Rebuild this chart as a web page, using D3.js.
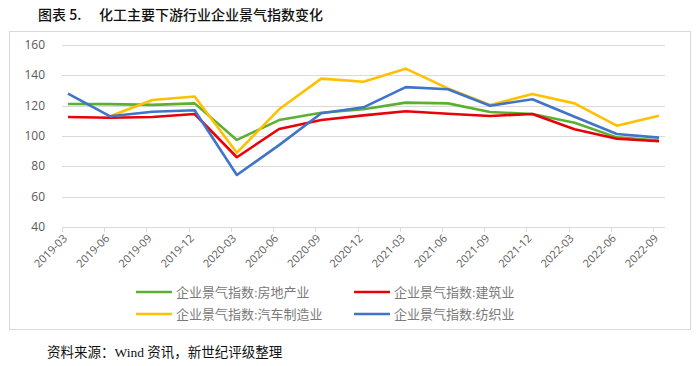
<!DOCTYPE html>
<meta charset="utf-8">
<style>
body { margin: 0; background: #fff; }
text { font-family: "Open Sans", "Noto Sans", sans-serif; }
.axis text { fill: #595959; font-size: 11px; }
.legend text { fill: #7a7a7a; font-size: 13px; font-family: "Liberation Serif", "Noto Sans CJK SC", serif; }
</style>
<svg width="700" height="366"></svg>
<script src="https://d3js.org/d3.v7.min.js"></script>
<script>

var dates = ["2019-03","2019-06","2019-09","2019-12","2020-03","2020-06","2020-09","2020-12",
             "2021-03","2021-06","2021-09","2021-12","2022-03","2022-06","2022-09"];
var yTicks = [40, 60, 80, 100, 120, 140, 160];

// 企业景气指数
var realEstate = [121.1, 121, 120.5, 121.5, 97.4, 110.5, 115.3, 117.6, 122, 121.5, 115.8, 114.5, 108.8, 99.1, 97];
var construction = [112.5, 112, 112.5, 114.5, 86, 104.6, 110.5, 113.6, 116.3, 114.7, 113.2, 114.5, 104.4, 98.2, 96.5];
var autoMaking = [null, 113, 123.7, 126, 89, 117.6, 137.8, 135.8, 144.4, 131.4, 120.4, 127.7, 121.5, 106.8, 113.4];
var textile = [128, 113, 116, 117, 74.3, 94, 115, 118.9, 132.2, 130.8, 120, 124.2, 112.7, 101.3, 98.9];

var series = [
  {name: "企业景气指数:房地产业", values: realEstate, color: "#5bb031"},
  {name: "企业景气指数:建筑业", values: construction, color: "#e8000b"},
  {name: "企业景气指数:汽车制造业", values: autoMaking, color: "#ffc000"},
  {name: "企业景气指数:纺织业", values: textile, color: "#3f74c8"}
];

var svg = d3.select("svg");

// outer frame
svg.append("rect")
  .attr("x", 9.5).attr("y", 31.5)
  .attr("width", 681).attr("height", 298)
  .attr("fill", "none").attr("stroke", "#d9d9d9");

svg.append("text").attr("x", 38).attr("y", 20)
  .style("font-family", "'Noto Sans CJK SC'").style("font-size", "14px").style("font-weight", "500")
  .attr("fill", "#111").text("图表 5.");
svg.append("text").attr("x", 99).attr("y", 20)
  .style("font-family", "'Noto Sans CJK SC'").style("font-size", "14px").style("font-weight", "500")
  .attr("fill", "#111").text("化工主要下游行业企业景气指数变化");

svg.append("text").attr("x", 47).attr("y", 357)
  .style("font-family", "'Liberation Serif', 'Noto Sans CJK SC', serif").style("font-size", "13.5px")
  .attr("fill", "#111").text("资料来源：Wind 资讯，新世纪评级整理");

var plotL = 62, plotR = 665;

var x = d3.scalePoint().domain(dates).range([68, 659]);
var y = d3.scaleLinear().domain([40, 160]).range([227, 45]);

// gridlines
svg.append("g").selectAll("line").data(yTicks).join("line")
  .attr("x1", plotL).attr("x2", plotR)
  .attr("y1", function(d) { return Math.round(y(d)) + 0.5; })
  .attr("y2", function(d) { return Math.round(y(d)) + 0.5; })
  .attr("stroke", "#d9d9d9").attr("stroke-width", 1);

var yAxis = svg.append("g").attr("class", "axis");
yAxis.selectAll("text").data(yTicks).join("text")
  .attr("x", 45).attr("y", function(d) { return y(d) + 4; })
  .attr("text-anchor", "end")
  .style("font-size", "12px")
  .text(function(d) { return d; });

// x axis tick marks and rotated labels
var xAxis = svg.append("g").attr("class", "axis");
xAxis.selectAll("line").data(dates).join("line")
  .attr("x1", function(d) { return Math.round(x(d)) - 6 + 0.5; })
  .attr("x2", function(d) { return Math.round(x(d)) - 6 + 0.5; })
  .attr("y1", y(40)).attr("y2", y(40) + 5)
  .attr("stroke", "#d9d9d9");
xAxis.selectAll("text").data(dates).join("text")
  .attr("transform", function(d) { return "translate(" + (x(d)) + "," + (y(40) + 12) + ") rotate(-45)"; })
  .attr("text-anchor", "end")
  .text(function(d) { return d; });

var line = d3.line()
  .defined(function(d) { return d != null; })
  .x(function(d, i) { return x(dates[i]); })
  .y(function(d) { return y(d); });

svg.append("g").selectAll("path").data(series).join("path")
  .attr("d", function(s) { return line(s.values); })
  .attr("fill", "none")
  .attr("stroke", function(s) { return s.color; })
  .attr("stroke-width", 2.6)
  .attr("stroke-linejoin", "round");

// legend
var legendPos = [[136, 292], [354, 292], [136, 314], [354, 314]];
var legend = svg.append("g").attr("class", "legend").selectAll("g").data(series).join("g")
  .attr("transform", function(s, i) { return "translate(" + legendPos[i][0] + "," + legendPos[i][1] + ")"; });
legend.append("line").attr("x1", 0).attr("x2", 36)
  .attr("stroke", function(s) { return s.color; }).attr("stroke-width", 2.6);
legend.append("text").attr("x", 40).attr("y", 5).text(function(s) { return s.name; });

</script>
